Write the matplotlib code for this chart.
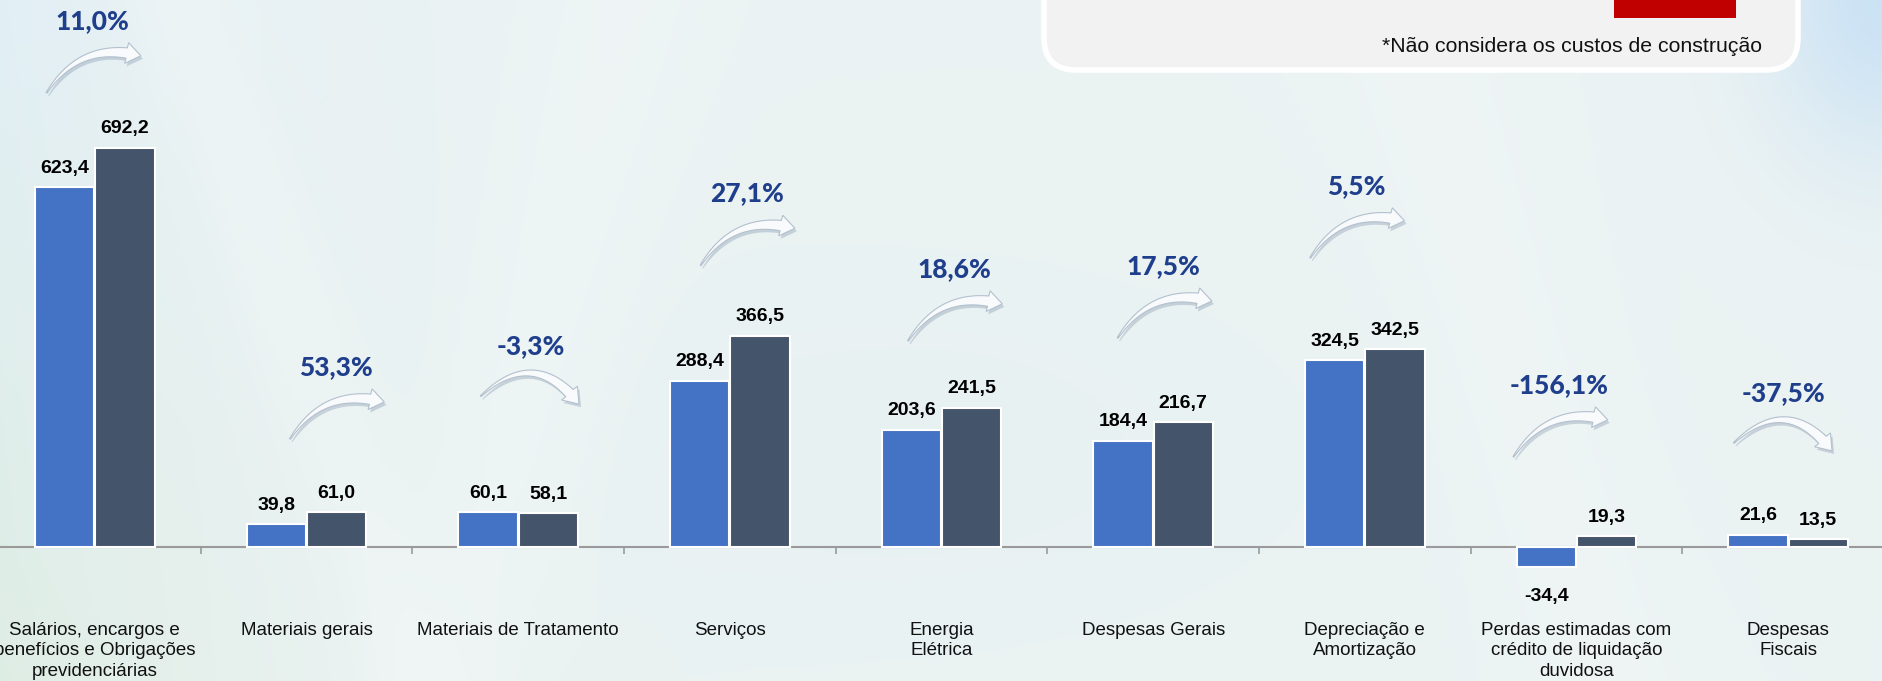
import numpy as np
import matplotlib.pyplot as plt
from matplotlib.patches import FancyBboxPatch, Rectangle, Polygon

# values (R$ milhões)
categories = ['Salários, encargos e\nbenefícios e Obrigações\nprevidenciárias',
              'Materiais gerais', 'Materiais de Tratamento', 'Serviços',
              'Energia\nElétrica', 'Despesas Gerais', 'Depreciação e\nAmortização',
              'Perdas estimadas com\ncrédito de liquidação\nduvidosa', 'Despesas\nFiscais']
previous = [623.4, 39.8, 60.1, 288.4, 203.6, 184.4, 324.5, -34.4, 21.6]
current = [692.2, 61.0, 58.1, 366.5, 241.5, 216.7, 342.5, 19.3, 13.5]
footnote = '*Não considera os custos de construção'

# layout of the variation labels (height in data units, x shift in category units)
pct_y = [912, 312, 348, 613, 482, 487, 626, 281, 267]
pct_dx = [-0.01, 0.14, 0.06, 0.08, 0.06, 0.05, -0.04, -0.08, -0.02]
arch = [False, False, True, False, False, False, False, False, True]

W, H = 1883, 681
PX_Y = 0.577          # pixels per data unit
PX_X = 211.0          # pixels per category

fig = plt.figure(figsize=(W / 100, H / 100), dpi=100)

# background gradient
bg = fig.add_axes([0, 0, 1, 1], zorder=0)
yy, xx = np.mgrid[0:H, 0:W]
img = np.ones((H, W, 3)) * np.array([0.925, 0.953, 0.953])
wl = np.exp(-xx / 260.0)[..., None]
left_col = np.array([0.87, 0.93, 0.965]) * (1 - yy / H)[..., None] + np.array([0.85, 0.92, 0.87]) * (yy / H)[..., None]
img = img * (1 - 0.7 * wl) + left_col * 0.7 * wl
wr = np.exp(-((W - xx) ** 2 / 120.0 ** 2 + yy ** 2 / 160.0 ** 2))[..., None]
img = img * (1 - wr) + np.array([0.80, 0.89, 0.96]) * wr
wm = np.exp(-((xx - 950) ** 2 / 500.0 ** 2 + (yy - 450) ** 2 / 250.0 ** 2))[..., None]
img = img * (1 - 0.35 * wm) + np.array([0.89, 0.94, 0.95]) * 0.35 * wm
# a few pale diagonal streaks
for x0, slope, wdt in ((180, 0.35, 60), (620, -0.25, 90), (1400, 0.3, 80)):
    d = np.abs(xx - (x0 + slope * yy))
    ws = (0.35 * np.exp(-(d / wdt) ** 2))[..., None]
    img = img * (1 - ws) + np.array([0.96, 0.975, 0.975]) * ws
bg.imshow(img, aspect='auto', extent=(0, W, H, 0))
bg.set_xlim(0, W)
bg.set_ylim(H, 0)
bg.axis('off')

# main chart
ax = fig.add_axes([-11 / W, 0, (W + 22) / W, 1], zorder=1)
ax.set_facecolor('none')
x = np.arange(len(categories))
bw = 0.28
off = 0.142
ax.bar(x - off, previous, bw, color='#4472C4', edgecolor='white', linewidth=1.5, zorder=3)
ax.bar(x + off, current, bw, color='#44546A', edgecolor='white', linewidth=1.5, zorder=3)

ax.set_xlim(-0.5, len(categories) - 0.5)
ax.set_ylim(-(H - 547) / PX_Y, 547 / PX_Y)

for s in ['top', 'right', 'left']:
    ax.spines[s].set_visible(False)
ax.spines['bottom'].set_position(('data', 0))
ax.spines['bottom'].set_color('#9A9A9A')
ax.spines['bottom'].set_linewidth(1.5)
ax.set_yticks([])
ax.set_xticks(x)
ax.set_xticklabels(categories, fontsize=13.5, family='Liberation Sans', color='#111111')
ax.tick_params(axis='x', which='major', length=0, pad=54)
ax.set_xticks(np.arange(len(categories) + 1) - 0.5, minor=True)
ax.tick_params(axis='x', which='minor', length=5, width=1.2, color='#9A9A9A', direction='out')
for t in ax.get_xticklabels():
    t.set_linespacing(1.25)


def fmt(v):
    return f'{v:.1f}'.replace('.', ',')


for xs, vals in ((x - off, previous), (x + off, current)):
    for xi, v in zip(xs, vals):
        dy = 13.5 if v >= 0 else -21
        ax.annotate(fmt(v), (xi, v), xytext=(0, dy), textcoords='offset points',
                    ha='center', va='center', fontsize=14, fontweight='bold',
                    family='Liberation Sans', color='black', zorder=4)

# overlay in pixel coordinates (y down) for the swoosh arrows and the note box
ov = fig.add_axes([0, 0, 1, 1], zorder=2)
ov.set_xlim(0, W)
ov.set_ylim(H, 0)
ov.axis('off')


def to_px(pt):
    dx, dy = ax.transData.transform(pt)
    return np.array([dx, H - dy])


def swoosh(tail, tip, rad):
    d = tip - tail
    ctrl = (tail + tip) / 2 + rad * np.array([d[1], -d[0]])
    t = np.linspace(0, 1, 200)[:, None]
    pts = (1 - t) ** 2 * tail + 2 * (1 - t) * t * ctrl + t ** 2 * tip
    s = np.concatenate([[0], np.cumsum(np.hypot(*np.diff(pts, axis=0).T))])
    ib = np.searchsorted(s, s[-1] - 15)
    body = pts[:ib + 1]
    tg = np.gradient(body, axis=0)
    tg /= np.hypot(tg[:, 0], tg[:, 1])[:, None]
    nrm = np.column_stack([-tg[:, 1], tg[:, 0]])
    w = np.linspace(0.5, 5.2, len(body))[:, None]
    base = pts[ib]
    dv = (tip - base) / np.hypot(*(tip - base))
    nb = np.array([-dv[1], dv[0]])
    poly = np.vstack([body + nrm * w, base + nb * 10.5, tip, base - nb * 10.5, (body - nrm * w)[::-1]])
    ov.add_patch(Polygon(poly + np.array([2, 3]), closed=True, fc='#7F93AA', ec='none', alpha=0.35))
    ov.add_patch(Polygon(poly, closed=True, fc='#F8FAFC', ec='#B3C0CE', lw=0.8))


# variation labels and arrows
for i, (p, c) in enumerate(zip(previous, current)):
    chg = (c - p) / p * 100
    tx = i + pct_dx[i]
    ty = pct_y[i]
    ax.text(tx, ty, fmt(chg) + '%', ha='center', va='center', fontsize=19,
            fontweight='black', family='Lato', color='#1F3E8C', zorder=4)
    if arch[i]:
        tail = (tx - 50 / PX_X, ty - 50 / PX_Y)
        head = (tx + 48 / PX_X, ty - 58 / PX_Y)
        rad = 0.55
    else:
        tail = (tx - 46 / PX_X, ty - 72 / PX_Y)
        head = (tx + 48 / PX_X, ty - 35 / PX_Y)
        rad = 0.36
    swoosh(to_px(tail), to_px(head), rad)

# note box, top right
box = FancyBboxPatch((1044, -60), 1798 - 1044, 130, boxstyle='round,pad=0,rounding_size=32',
                     fc='#F2F2F2', ec='white', lw=4)
ov.add_patch(box)
ov.add_patch(Rectangle((1614, -10), 122, 28, fc='#C00000', ec='none'))
ov.text(1762, 47, footnote, ha='right', va='center', fontsize=15.3,
        family='Liberation Sans', color='#111111')

fig.savefig('out.png', dpi=100)
